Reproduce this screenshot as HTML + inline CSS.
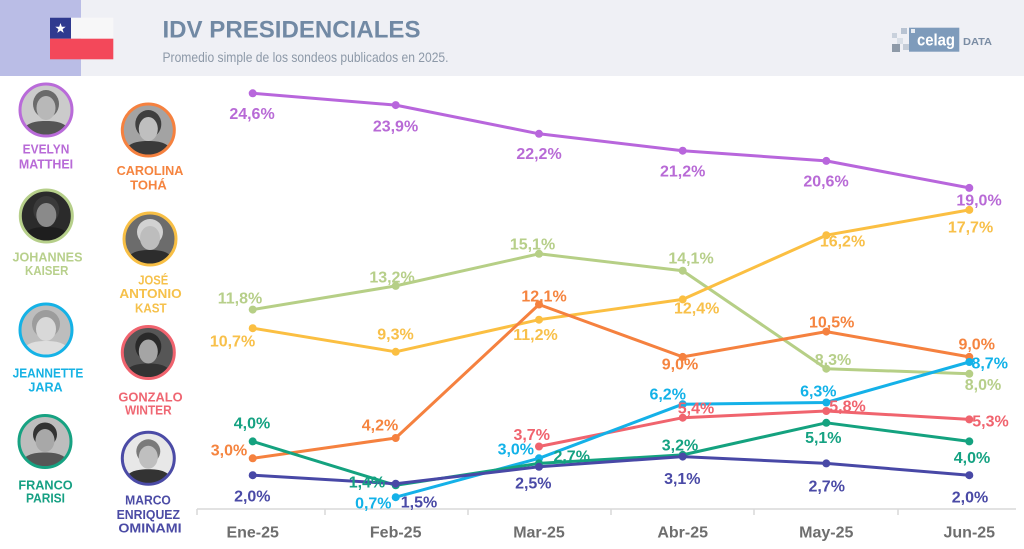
<!DOCTYPE html>
<html><head><meta charset="utf-8"><style>
html,body{margin:0;padding:0;background:#fff;}
svg{display:block;}
text{font-family:"Liberation Sans",Arial,sans-serif;}
.lbl{font-size:16px;font-weight:bold;text-anchor:middle;}
.nm{font-size:13px;font-weight:bold;text-anchor:middle;}
.mo{font-size:16px;font-weight:bold;text-anchor:middle;fill:#6e6e6e;}
</style></head><body>
<svg width="1024" height="549" viewBox="0 0 1024 549" xmlns="http://www.w3.org/2000/svg">
<defs>
<clipPath id="pc"><circle cx="0" cy="0" r="25.5"/></clipPath>
</defs>
<!-- header -->
<rect x="0" y="0" width="1024" height="76" fill="#eff0f5"/>
<rect x="0" y="0" width="81" height="76" fill="#babde6"/>
<!-- flag -->
<rect x="50" y="17.7" width="63.3" height="21" fill="#f7f7f8"/>
<rect x="50" y="17.7" width="21" height="21" fill="#2f3a8f"/>
<rect x="50" y="38.7" width="63.3" height="20.6" fill="#f3485a"/>
<polygon points="60.5,23 61.8,26.8 65.7,26.8 62.6,29.1 63.7,32.9 60.5,30.6 57.3,32.9 58.4,29.1 55.3,26.8 59.2,26.8" fill="#fff"/>
<text x="162.5" y="37.3" font-size="24.5" font-weight="bold" fill="#7189a4" textLength="258" lengthAdjust="spacingAndGlyphs">IDV PRESIDENCIALES</text>
<text x="162.5" y="62" font-size="14" fill="#8d99a8" textLength="286" lengthAdjust="spacingAndGlyphs">Promedio simple de los sondeos publicados en 2025.</text>
<!-- logo -->
<rect x="892" y="33" width="5" height="5" fill="#c9d1dc"/>
<rect x="897" y="38" width="6" height="6" fill="#d9dfe7"/>
<rect x="892" y="44" width="8" height="8" fill="#8e9aa8"/>
<rect x="901" y="28" width="6" height="6" fill="#b8c3d2"/>
<rect x="903" y="44" width="6" height="6" fill="#c4ccd7"/>
<rect x="909" y="27.7" width="50.3" height="24" fill="#7e9bbb"/>
<rect x="911" y="29" width="4" height="4" fill="#e6ebf2"/>
<text x="936" y="45.5" font-size="17" font-weight="bold" fill="#fff" text-anchor="middle" textLength="38" lengthAdjust="spacingAndGlyphs">celag</text>
<text x="963" y="45" font-size="10.5" font-weight="bold" fill="#7b8da4" textLength="29" lengthAdjust="spacingAndGlyphs">DATA</text>

<!-- photos -->
<g transform="translate(46,110)"><g clip-path="url(#pc)"><rect x="-27" y="-27" width="54" height="54" fill="#cbcbcb"/><ellipse cx="0" cy="-6" rx="13" ry="14" fill="#6a6a6a"/><ellipse cx="0" cy="-2" rx="9.5" ry="12" fill="#b8b8b8"/><path d="M-26,28 C-24,13 -12,11 0,11 C12,11 24,13 26,28 Z" fill="#555"/></g><circle r="26" fill="none" stroke="#b96bd9" stroke-width="3"/></g>
<g transform="translate(148.3,130)"><g clip-path="url(#pc)"><rect x="-27" y="-27" width="54" height="54" fill="#a3a3a3"/><ellipse cx="0" cy="-6" rx="13" ry="14" fill="#3e3e3e"/><ellipse cx="0" cy="-1" rx="9.5" ry="12" fill="#bfbfbf"/><path d="M-26,28 C-24,13 -12,11 0,11 C12,11 24,13 26,28 Z" fill="#3a3a3a"/></g><circle r="26" fill="none" stroke="#f5813f" stroke-width="3"/></g>
<g transform="translate(46.3,216)"><g clip-path="url(#pc)"><rect x="-27" y="-27" width="54" height="54" fill="#2b2b2b"/><ellipse cx="0" cy="-6" rx="13" ry="14" fill="#3a3a3a"/><ellipse cx="0" cy="-1" rx="10" ry="12" fill="#8a8a8a"/><path d="M-26,28 C-24,13 -12,11 0,11 C12,11 24,13 26,28 Z" fill="#1e1e1e"/></g><circle r="26" fill="none" stroke="#b6cf8a" stroke-width="3"/></g>
<g transform="translate(150,239)"><g clip-path="url(#pc)"><rect x="-27" y="-27" width="54" height="54" fill="#6c6c6c"/><ellipse cx="0" cy="-7" rx="13" ry="13" fill="#d2d2d2"/><ellipse cx="0" cy="-1" rx="10" ry="12" fill="#bdbdbd"/><path d="M-26,28 C-24,13 -12,11 0,11 C12,11 24,13 26,28 Z" fill="#2d2d2d"/></g><circle r="26" fill="none" stroke="#f8bf45" stroke-width="3"/></g>
<g transform="translate(46,330)"><g clip-path="url(#pc)"><rect x="-27" y="-27" width="54" height="54" fill="#bdbdbd"/><ellipse cx="0" cy="-6" rx="14" ry="14" fill="#9c9c9c"/><ellipse cx="0" cy="-1" rx="10" ry="12" fill="#d8d8d8"/><path d="M-26,28 C-24,13 -12,11 0,11 C12,11 24,13 26,28 Z" fill="#dedede"/></g><circle r="26" fill="none" stroke="#15b2e6" stroke-width="3"/></g>
<g transform="translate(148.3,352.5)"><g clip-path="url(#pc)"><rect x="-27" y="-27" width="54" height="54" fill="#565656"/><ellipse cx="0" cy="-6" rx="13" ry="14" fill="#2a2a2a"/><ellipse cx="0" cy="-1" rx="9.5" ry="12" fill="#a5a5a5"/><path d="M-26,28 C-24,13 -12,11 0,11 C12,11 24,13 26,28 Z" fill="#333"/></g><circle r="26" fill="none" stroke="#f0636e" stroke-width="3"/></g>
<g transform="translate(45,441.5)"><g clip-path="url(#pc)"><rect x="-27" y="-27" width="54" height="54" fill="#bdbdbd"/><ellipse cx="0" cy="-7" rx="12" ry="12" fill="#333"/><ellipse cx="0" cy="-1" rx="9.5" ry="11.5" fill="#a8a8a8"/><path d="M-26,28 C-24,13 -12,11 0,11 C12,11 24,13 26,28 Z" fill="#565656"/></g><circle r="26" fill="none" stroke="#17a282" stroke-width="3"/></g>
<g transform="translate(148.3,458.3)"><g clip-path="url(#pc)"><rect x="-27" y="-27" width="54" height="54" fill="#e8e8e8"/><ellipse cx="0" cy="-7" rx="12" ry="12" fill="#7a7a7a"/><ellipse cx="0" cy="-1" rx="9.5" ry="11.5" fill="#bfbfbf"/><path d="M-26,28 C-24,13 -12,11 0,11 C12,11 24,13 26,28 Z" fill="#333"/></g><circle r="26" fill="none" stroke="#4b4ba6" stroke-width="3"/></g>

<!-- names -->
<g class="nm">
<text x="46" y="153.6" fill="#b86ad7" textLength="46.7" lengthAdjust="spacingAndGlyphs">EVELYN</text>
<text x="46" y="168.6" fill="#b86ad7" textLength="54.3" lengthAdjust="spacingAndGlyphs">MATTHEI</text>
<text x="150" y="175.1" fill="#f5843f" textLength="66.7" lengthAdjust="spacingAndGlyphs">CAROLINA</text>
<text x="148.5" y="189.6" fill="#f5843f" textLength="36.7" lengthAdjust="spacingAndGlyphs">TOHÁ</text>
<text x="47.5" y="261.6" fill="#b8d08c" textLength="70" lengthAdjust="spacingAndGlyphs">JOHANNES</text>
<text x="46.7" y="275.1" fill="#b8d08c" textLength="43.3" lengthAdjust="spacingAndGlyphs">KAISER</text>
<text x="153.3" y="284.6" fill="#f6c14b" textLength="30" lengthAdjust="spacingAndGlyphs">JOSÉ</text>
<text x="150.5" y="298.1" fill="#f6c14b" textLength="62.3" lengthAdjust="spacingAndGlyphs">ANTONIO</text>
<text x="150.8" y="312.6" fill="#f6c14b" textLength="31.7" lengthAdjust="spacingAndGlyphs">KAST</text>
<text x="48" y="377.6" fill="#16b2e4" textLength="70.7" lengthAdjust="spacingAndGlyphs">JEANNETTE</text>
<text x="45.5" y="391.3" fill="#16b2e4" textLength="34.3" lengthAdjust="spacingAndGlyphs">JARA</text>
<text x="150.5" y="401.3" fill="#ef6672" textLength="64.3" lengthAdjust="spacingAndGlyphs">GONZALO</text>
<text x="148.3" y="414.6" fill="#ef6672" textLength="46.7" lengthAdjust="spacingAndGlyphs">WINTER</text>
<text x="45.5" y="489.6" fill="#16a083" textLength="54.3" lengthAdjust="spacingAndGlyphs">FRANCO</text>
<text x="45.5" y="502.6" fill="#16a083" textLength="39" lengthAdjust="spacingAndGlyphs">PARISI</text>
<text x="148" y="504.6" fill="#4b4ba5" textLength="45.7" lengthAdjust="spacingAndGlyphs">MARCO</text>
<text x="148.3" y="519.1" fill="#4b4ba5" textLength="63.3" lengthAdjust="spacingAndGlyphs">ENRIQUEZ</text>
<text x="150" y="532.6" fill="#4b4ba5" textLength="63.3" lengthAdjust="spacingAndGlyphs">OMINAMI</text>
</g>

<!-- axis -->
<line x1="197" y1="509" x2="1016" y2="509" stroke="#d9d9d9" stroke-width="1.5"/>
<g stroke="#d9d9d9" stroke-width="1.5">
<line x1="197" y1="509" x2="197" y2="515"/><line x1="325" y1="509" x2="325" y2="515"/><line x1="468" y1="509" x2="468" y2="515"/><line x1="611" y1="509" x2="611" y2="515"/><line x1="754" y1="509" x2="754" y2="515"/><line x1="898" y1="509" x2="898" y2="515"/>
</g>
<g class="mo">
<text x="252.7" y="537.5">Ene-25</text><text x="395.7" y="537.5">Feb-25</text><text x="539" y="537.5">Mar-25</text><text x="682.7" y="537.5">Abr-25</text><text x="826.3" y="537.5">May-25</text><text x="969.3" y="537.5">Jun-25</text>
</g>

<!-- series lines -->
<g fill="none" stroke-width="3" stroke-linejoin="round" stroke-linecap="round">
<polyline stroke="#b866dc" points="252.7,93.3 395.7,105.1 539,133.8 682.7,150.7 826.3,160.9 969.3,187.9"/>
<polyline stroke="#b6cf86" points="252.7,309.6 395.7,285.9 539,253.8 682.7,270.7 826.3,368.7 969.3,373.8"/>
<polyline stroke="#fbbf42" points="252.7,328.2 395.7,351.8 539,319.7 682.7,299.4 826.3,235.2 969.3,209.9"/>
<polyline stroke="#f5813f" points="252.7,458.3 395.7,438 539,304.5 682.7,356.9 826.3,331.6 969.3,356.9"/>
<polyline stroke="#f0646e" points="539,446.5 682.7,417.7 826.3,411 969.3,419.4"/>
<polyline stroke="#14b1e8" points="395.7,497.2 539,458.3 682.7,404.2 826.3,402.5 969.3,362"/>
<polyline stroke="#14a27f" points="252.7,441.4 395.7,485.3 539,463.4 682.7,454.9 826.3,422.8 969.3,441.4"/>
<polyline stroke="#4848a6" points="252.7,475.2 395.7,483.7 539,466.8 682.7,456.6 826.3,463.4 969.3,475.2"/>
</g>
<!-- dots -->
<g fill="#b866dc"><circle cx="252.7" cy="93.3" r="4"/><circle cx="395.7" cy="105.1" r="4"/><circle cx="539" cy="133.8" r="4"/><circle cx="682.7" cy="150.7" r="4"/><circle cx="826.3" cy="160.9" r="4"/><circle cx="969.3" cy="187.9" r="4"/></g>
<g fill="#b6cf86"><circle cx="252.7" cy="309.6" r="4"/><circle cx="395.7" cy="285.9" r="4"/><circle cx="539" cy="253.8" r="4"/><circle cx="682.7" cy="270.7" r="4"/><circle cx="826.3" cy="368.7" r="4"/><circle cx="969.3" cy="373.8" r="4"/></g>
<g fill="#fbbf42"><circle cx="252.7" cy="328.2" r="4"/><circle cx="395.7" cy="351.8" r="4"/><circle cx="539" cy="319.7" r="4"/><circle cx="682.7" cy="299.4" r="4"/><circle cx="826.3" cy="235.2" r="4"/><circle cx="969.3" cy="209.9" r="4"/></g>
<g fill="#f5813f"><circle cx="252.7" cy="458.3" r="4"/><circle cx="395.7" cy="438" r="4"/><circle cx="539" cy="304.5" r="4"/><circle cx="682.7" cy="356.9" r="4"/><circle cx="826.3" cy="331.6" r="4"/><circle cx="969.3" cy="356.9" r="4"/></g>
<g fill="#f0646e"><circle cx="539" cy="446.5" r="4"/><circle cx="682.7" cy="417.7" r="4"/><circle cx="826.3" cy="411" r="4"/><circle cx="969.3" cy="419.4" r="4"/></g>
<g fill="#14b1e8"><circle cx="395.7" cy="497.2" r="4"/><circle cx="539" cy="458.3" r="4"/><circle cx="682.7" cy="404.2" r="4"/><circle cx="826.3" cy="402.5" r="4"/><circle cx="969.3" cy="362" r="4"/></g>
<g fill="#14a27f"><circle cx="252.7" cy="441.4" r="4"/><circle cx="395.7" cy="485.3" r="4"/><circle cx="539" cy="463.4" r="4"/><circle cx="682.7" cy="454.9" r="4"/><circle cx="826.3" cy="422.8" r="4"/><circle cx="969.3" cy="441.4" r="4"/></g>
<g fill="#4848a6"><circle cx="252.7" cy="475.2" r="4"/><circle cx="395.7" cy="483.7" r="4"/><circle cx="539" cy="466.8" r="4"/><circle cx="682.7" cy="456.6" r="4"/><circle cx="826.3" cy="463.4" r="4"/><circle cx="969.3" cy="475.2" r="4"/></g>

<!-- labels -->
<g class="lbl" fill="#b86ad6">
<text x="252" y="119.2">24,6%</text><text x="395.5" y="131.7">23,9%</text><text x="539" y="159.2">22,2%</text><text x="682.7" y="176.7">21,2%</text><text x="826" y="186.7">20,6%</text><text x="979" y="205.7">19,0%</text>
</g>
<g class="lbl" fill="#b7cf8a">
<text x="240" y="303.7">11,8%</text><text x="392" y="282.7">13,2%</text><text x="532.5" y="249.7">15,1%</text><text x="691" y="263.7">14,1%</text><text x="833" y="365.2">8,3%</text><text x="983" y="390.2">8,0%</text>
</g>
<g class="lbl" fill="#f8c04a">
<text x="232.5" y="346.7">10,7%</text><text x="395.5" y="339.7">9,3%</text><text x="535.5" y="340.2">11,2%</text><text x="696.7" y="313.7">12,4%</text><text x="842.5" y="246.7">16,2%</text><text x="970.5" y="232.4">17,7%</text>
</g>
<g class="lbl" fill="#f5843f">
<text x="229" y="455.7">3,0%</text><text x="380" y="430.7">4,2%</text><text x="544" y="301.7">12,1%</text><text x="680" y="369.4">9,0%</text><text x="831.7" y="327.7">10,5%</text><text x="976.7" y="349.4">9,0%</text>
</g>
<g class="lbl" fill="#f0636e">
<text x="531.7" y="440.2">3,7%</text><text x="696" y="413.7">5,4%</text><text x="847.5" y="411.7">5,8%</text><text x="990.5" y="426.4">5,3%</text>
</g>
<g class="lbl" fill="#12b2e8">
<text x="373.3" y="508.7">0,7%</text><text x="515.8" y="454.7">3,0%</text><text x="667.7" y="399.7">6,2%</text><text x="818.3" y="396.4">6,3%</text><text x="989.7" y="368.7">8,7%</text>
</g>
<g class="lbl" fill="#15a282">
<text x="252" y="428.7">4,0%</text><text x="367" y="487.4">1,4%</text><text x="571.7" y="461.7">2,7%</text><text x="680" y="450.7">3,2%</text><text x="823.3" y="443">5,1%</text><text x="972" y="463">4,0%</text>
</g>
<g class="lbl" fill="#4a4aa6">
<text x="252.3" y="501.7">2,0%</text><text x="419" y="507.4">1,5%</text><text x="533.3" y="488.7">2,5%</text><text x="682.3" y="484">3,1%</text><text x="826.7" y="491.7">2,7%</text><text x="970" y="502.4">2,0%</text>
</g>
</svg>
</body></html>
